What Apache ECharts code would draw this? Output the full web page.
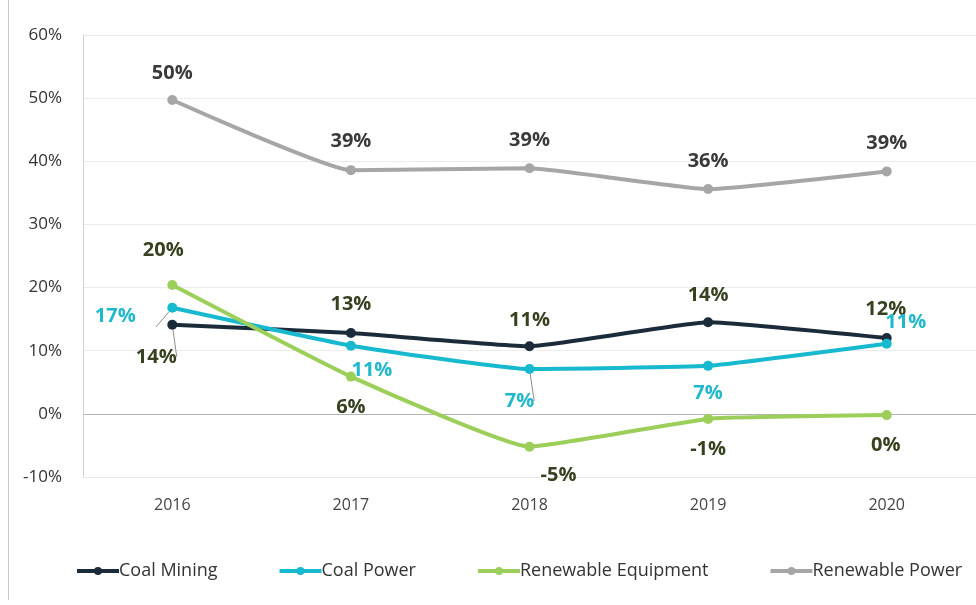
<!DOCTYPE html>
<html><head><meta charset="utf-8">
<script src="https://cdn.jsdelivr.net/npm/echarts@6/dist/echarts.min.js"></script>
<style>html,body{margin:0;padding:0;background:#fff}#c{width:976px;height:605px}</style>
</head><body><div id="c"></div>
<script>
const years = ['2016','2017','2018','2019','2020'];
const coalMining = [14.1, 12.8, 10.7, 14.5, 12.0];
const coalPower = [16.8, 10.8, 7.1, 7.6, 11.1];
const renewableEquipment = [20.4, 5.9, -5.2, -0.8, -0.2];
const renewablePower = [49.7, 38.6, 38.9, 35.6, 38.4];
const coalMiningLabels = ['14%','13%','11%','14%','12%'];
const coalPowerLabels = ['17%','11%','7%','7%','11%'];
const renewableEquipmentLabels = ['20%','6%','-5%','-1%','0%'];
const renewablePowerLabels = ['50%','39%','39%','36%','39%'];

// label placement (offset from point), styling only
const offCM = [[-16,32],[0,-29],[0,-26],[0,-27],[-1,-29]];
const offCP = [[-57,9],[21,25],[-10,32],[0,27],[19,-21]];
const offRE = [[-9,-35],[0,31],[29,29],[0,30],[-1,30]];
const offRP = [[0,-27],[0,-29],[0,-28],[0,-28],[0,-28]];
const leaderCM = [true,false,false,false,false];
const leaderCP = [true,false,true,false,false];

function build(vals, labels, offs, leaders){
  return vals.map((v,i)=>{
    const item = {value:v, label:{formatter:labels[i], offset:offs[i]}};
    if(leaders && leaders[i]) item.labelLine = {show:true, lineStyle:{color:'#8c8c8c', width:1}};
    return item;
  });
}
function series(name, vals, labels, offs, leaders, color, labelColor){
  return {
    name, type:'line', data: build(vals, labels, offs, leaders),
    smooth: 0.12, symbol:'circle', symbolSize:10,
    lineStyle:{width:4, color}, itemStyle:{color},
    label:{show:true, position:'inside', color:labelColor, fontSize:20, fontWeight:'bold', fontFamily:'Open Sans'},
    labelLine:{show:false}
  };
}
const chart = echarts.init(document.getElementById('c'));
chart.setOption({
  animation:false,
  backgroundColor:'#fff',
  graphic:[{type:'line', shape:{x1:8.5,y1:0,x2:8.5,y2:600}, style:{stroke:'#c8c8c8', lineWidth:1}}],
  grid:{left:83, top:35, width:905, bottom:128},
  legend:{
    bottom:20, left:70, width:905, itemWidth:42, itemHeight:10, itemGap:60,
    lineStyle:{width:4},
    textStyle:{fontSize:18, color:'#333', fontFamily:'Open Sans', padding:[0,0,0,-5]},
    data:['Coal Mining','Coal Power','Renewable Equipment','Renewable Power']
  },
  xAxis:{
    type:'category', data:years,
    axisLine:{show:false}, axisTick:{show:false},
    axisLabel:{fontSize:16, color:'#444', margin:20, fontFamily:'Open Sans'}
  },
  yAxis:{
    type:'value', min:-10, max:60, interval:10,
    axisLine:{show:true, lineStyle:{color:'#d0d0d0'}},
    axisLabel:{formatter:'{value}%', fontSize:17, color:'#333', margin:21, fontFamily:'Open Sans'},
    splitLine:{show:true, lineStyle:{color:['#e8e8e8','#b4b4b4','#ececec','#ececec','#ececec','#ececec','#ececec','#ececec'], width:1}}
  },
  series:[
    series('Coal Mining', coalMining, coalMiningLabels, offCM, leaderCM, '#1c2b3a', '#35411f'),
    series('Coal Power', coalPower, coalPowerLabels, offCP, leaderCP, '#17b9cf', '#1fb8cc'),
    series('Renewable Equipment', renewableEquipment, renewableEquipmentLabels, offRE, null, '#9ccf5a', '#35411f'),
    series('Renewable Power', renewablePower, renewablePowerLabels, offRP, null, '#a6a6a6', '#3a3a3a')
  ]
});
</script></body></html>
